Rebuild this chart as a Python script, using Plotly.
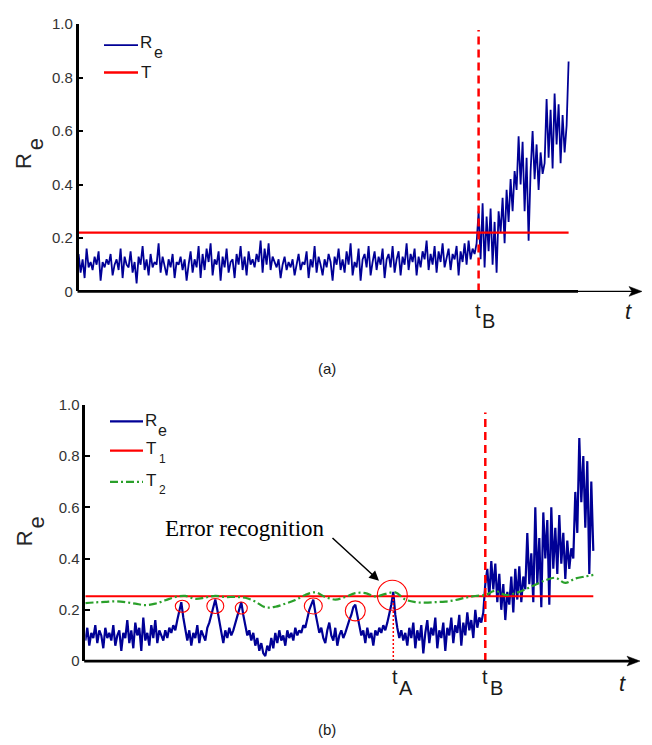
import plotly.graph_objects as go

W, H = 652, 745

# ---------------- data : panel (a) ----------------
step_a = 2                       # sample spacing on the time axis
t_break_a = 400                  # t_B
threshold_a = 0.22               # T
re_a = [
    0.14,0.07,0.12,0.05,0.16,0.09,0.11,0.08,0.13,0.10,0.15,0.04,0.11,0.09,0.12,0.10,0.14,0.06,0.10,0.12,
    0.08,0.16,0.05,0.13,0.10,0.09,0.15,0.07,0.11,0.03,0.13,0.10,0.17,0.08,0.12,0.06,0.14,0.09,0.11,0.10,
    0.18,0.07,0.13,0.10,0.06,0.12,0.09,0.14,0.05,0.11,0.10,0.13,0.08,0.12,0.04,0.10,0.15,0.07,0.12,0.09,
    0.17,0.05,0.14,0.08,0.16,0.11,0.18,0.06,0.12,0.10,0.15,0.04,0.13,0.09,0.16,0.07,0.11,0.12,0.05,0.14,
    0.10,0.17,0.08,0.13,0.06,0.15,0.10,0.12,0.09,0.14,0.11,0.19,0.07,0.16,0.10,0.18,0.08,0.13,0.11,0.09,
    0.12,0.05,0.10,0.13,0.08,0.11,0.09,0.12,0.06,0.10,0.14,0.08,0.11,0.10,0.15,0.05,0.12,0.09,0.17,0.07,
    0.13,0.10,0.06,0.12,0.09,0.14,0.11,0.04,0.13,0.10,0.16,0.08,0.12,0.07,0.15,0.10,0.18,0.06,0.11,0.09,
    0.16,0.04,0.12,0.14,0.09,0.17,0.06,0.11,0.15,0.08,0.13,0.10,0.16,0.05,0.12,0.14,0.09,0.17,0.07,0.12,
    0.15,0.06,0.13,0.10,0.18,0.08,0.14,0.11,0.16,0.06,0.13,0.09,0.15,0.12,0.19,0.08,0.14,0.10,0.17,0.07,
    0.15,0.11,0.18,0.09,0.13,0.16,0.08,0.14,0.12,0.17,0.06,0.15,0.11,0.18,0.10,0.19,0.12,0.16,0.14,0.18,
    0.30,0.12,0.33,0.09,0.28,0.15,0.31,0.10,0.26,0.07,0.30,0.22,0.35,0.18,0.38,0.26,0.42,0.30,0.45,0.38,
    0.58,0.40,0.56,0.30,0.50,0.19,0.45,0.60,0.42,0.55,0.38,0.52,0.44,0.48,0.72,0.50,0.68,0.46,0.74,0.55,
    0.70,0.48,0.66,0.52,0.62,0.86,
]

# ---------------- data : panel (b) ----------------
step_b = 2
t_break_b = 400                  # t_B
t_alarm_b = 308                  # t_A
threshold_b1 = 0.253             # T1
re_b = [
    0.08,0.13,0.06,0.11,0.09,0.14,0.07,0.12,0.10,0.05,0.13,0.09,0.11,0.08,0.14,0.06,0.10,0.12,0.04,0.11,
    0.09,0.16,0.07,0.12,0.05,0.15,0.10,0.13,0.04,0.17,0.08,0.11,0.06,0.14,0.09,0.16,0.07,0.12,0.10,0.08,
    0.12,0.09,0.13,0.11,0.14,0.12,0.16,0.19,0.23,0.17,0.13,0.08,0.12,0.06,0.11,0.09,0.14,0.07,0.12,0.10,
    0.08,0.13,0.15,0.18,0.21,0.24,0.20,0.16,0.11,0.07,0.12,0.09,0.13,0.10,0.12,0.15,0.17,0.20,0.23,0.18,
    0.14,0.10,0.12,0.08,0.11,0.06,0.09,0.04,0.07,0.03,0.02,0.06,0.04,0.09,0.05,0.11,0.07,0.12,0.08,0.10,
    0.06,0.12,0.09,0.11,0.08,0.13,0.10,0.12,0.11,0.14,0.13,0.17,0.20,0.22,0.24,0.19,0.15,0.11,0.13,0.09,
    0.07,0.12,0.15,0.10,0.08,0.13,0.06,0.10,0.12,0.09,0.11,0.14,0.16,0.18,0.21,0.22,0.18,0.14,0.10,0.12,
    0.07,0.13,0.09,0.11,0.06,0.12,0.10,0.13,0.11,0.14,0.12,0.15,0.18,0.22,0.27,0.18,0.13,0.09,0.12,0.08,
    0.11,0.06,0.13,0.09,0.15,0.05,0.12,0.08,0.14,0.03,0.11,0.16,0.07,0.13,0.10,0.17,0.05,0.12,0.09,0.15,
    0.04,0.13,0.10,0.17,0.07,0.14,0.11,0.18,0.06,0.15,0.10,0.19,0.12,0.16,0.09,0.20,0.13,0.17,0.15,0.19,
    0.30,0.36,0.25,0.39,0.28,0.38,0.23,0.34,0.20,0.30,0.16,0.27,0.22,0.33,0.19,0.36,0.24,0.37,0.23,0.33,
    0.28,0.50,0.30,0.42,0.23,0.60,0.30,0.48,0.21,0.58,0.40,0.55,0.22,0.60,0.36,0.52,0.34,0.57,0.38,0.50,
    0.32,0.47,0.36,0.44,0.40,0.66,0.50,0.87,0.62,0.80,0.52,0.78,0.34,0.70,0.43,
]
t2_t = [0,10,20,30,40,50,60,70,80,90,100,110,120,130,140,150,160,170,180,190,200,210,220,230,240,250,
        260,270,280,290,300,310,320,330,340,350,360,370,380,390,400,410,420,430,440,450,460,470,480,490,500,508]
t2_v = [0.226,0.229,0.231,0.233,0.230,0.224,0.218,0.224,0.237,0.250,0.254,0.243,0.248,0.254,0.250,0.250,
        0.247,0.232,0.210,0.212,0.224,0.238,0.258,0.268,0.250,0.240,0.250,0.265,0.265,0.252,0.262,0.268,
        0.240,0.230,0.228,0.230,0.232,0.238,0.247,0.254,0.258,0.274,0.258,0.265,0.280,0.298,0.315,0.325,
        0.305,0.322,0.330,0.336]
# highlighted peaks (error recognitions)
peak_t = [97, 130, 156, 228, 270, 307]
peak_y = [0.214, 0.215, 0.207, 0.215, 0.196, 0.257]

y_ticks = [0, 0.2, 0.4, 0.6, 0.8, 1.0]
y_ticktext = ["0", "0.2", "0.4", "0.6", "0.8", "1.0"]

# ---------------- styling ----------------
BLUE = "#000096"
RED = "#FF0000"
GREEN = "#2AA02A"
FONT = "Liberation Sans, Arial, sans-serif"


def px(x):  # window pixel -> paper fraction (margins are zero)
    return x / W


def py(y):
    return 1 - y / H


t_a = [i * step_a for i in range(len(re_a))]
t_b = [i * step_b for i in range(len(re_b))]

fig = go.Figure()
fig.add_trace(go.Scatter(x=t_a, y=re_a, mode="lines", line=dict(color=BLUE, width=1.8),
                         xaxis="x", yaxis="y", showlegend=False, hoverinfo="skip"))
fig.add_trace(go.Scatter(x=[0, t_a[-1]], y=[threshold_a, threshold_a], mode="lines",
                         line=dict(color=RED, width=2.4), xaxis="x", yaxis="y", showlegend=False))
fig.add_trace(go.Scatter(x=t_b, y=re_b, mode="lines", line=dict(color=BLUE, width=2.2),
                         xaxis="x2", yaxis="y2", showlegend=False, hoverinfo="skip"))
fig.add_trace(go.Scatter(x=[0, t_b[-1]], y=[threshold_b1, threshold_b1], mode="lines",
                         line=dict(color=RED, width=2.2), xaxis="x2", yaxis="y2", showlegend=False))
fig.add_trace(go.Scatter(x=t2_t, y=t2_v, mode="lines", line=dict(color=GREEN, width=2.2, shape="spline",
                         dash="8px,3px,2px,3px"), xaxis="x2", yaxis="y2", showlegend=False))

shapes = []
annotations = []

# vertical markers
shapes.append(dict(type="line", xref="x", yref="y", x0=t_break_a, x1=t_break_a, y0=0, y1=0.978,
                   line=dict(color=RED, width=2.5, dash="8px,5px")))
shapes.append(dict(type="line", xref="x2", yref="y2", x0=t_break_b, x1=t_break_b, y0=0, y1=0.97,
                   line=dict(color=RED, width=2.5, dash="8px,5px")))
shapes.append(dict(type="line", xref="x2", yref="y2", x0=t_alarm_b, x1=t_alarm_b, y0=0, y1=0.265,
                   line=dict(color=RED, width=1.5, dash="2px,2px")))

# circles around peaks
radii = [(7, 6), (8.5, 7.5), (6, 6), (9, 8), (10, 10), (15, 15)]
for tt, yy, (rx, ry) in zip(peak_t, peak_y, radii):
    shapes.append(dict(type="circle", xref="x2", yref="y2", xsizemode="pixel", ysizemode="pixel",
                       xanchor=tt, yanchor=yy, x0=-rx, x1=rx, y0=-ry, y1=ry,
                       line=dict(color=RED, width=1.1)))


def hline(x0, x1, y, w, color="black", dash=None):
    d = dict(type="line", xref="paper", yref="paper", x0=px(x0), x1=px(x1), y0=py(y), y1=py(y),
             line=dict(color=color, width=w))
    if dash:
        d["line"]["dash"] = dash
    return d


def arrowhead(xt, yt):
    pts = [(xt, yt), (xt - 13, yt - 5), (xt - 10, yt), (xt - 13, yt + 5)]
    path = "M " + " L ".join(f"{px(a):.5f},{py(b):.5f}" for a, b in pts) + " Z"
    return dict(type="path", xref="paper", yref="paper", path=path,
                fillcolor="black", line=dict(color="black", width=0.5))


# x axes drawn as arrows
shapes.append(hline(77.5, 578, 289, 2.7))
shapes.append(hline(578, 632, 289, 1.3))
shapes.append(arrowhead(642, 289))
shapes.append(hline(84.2, 632, 667.3, 2.7))
shapes.append(arrowhead(640, 667.3))

# manual legends
shapes.append(hline(104, 138, 37, 1.8, BLUE))
shapes.append(hline(104, 138, 65, 2.4, RED))
shapes.append(hline(110, 143, 422, 2.2, BLUE))
shapes.append(hline(110, 143, 452, 2.2, RED))
shapes.append(hline(110, 143, 484, 2.2, GREEN, "8px,3px,2px,3px"))


def txt(s, x, y, size, angle=0, family=FONT, color="#1a1a1a"):
    annotations.append(dict(text=s, x=px(x), y=py(y), xref="paper", yref="paper", showarrow=False,
                            xanchor="center", yanchor="middle", textangle=angle,
                            font=dict(family=family, size=size, color=color)))


# legend texts
txt("R", 146, 34, 17); txt("e", 158, 45, 16)
txt("T", 146, 65, 17)
txt("R", 151, 421, 17); txt("e", 162.5, 431, 16)
txt("T", 151, 450, 17); txt("1", 162, 460, 12)
txt("T", 151, 482, 17); txt("2", 162, 492, 12)

# y titles
txt("R", 23.5, 156, 22, -90, color="#262626"); txt("e", 35.5, 139, 22, -90, color="#262626")
txt("R", 24.5, 542, 22, -90, color="#262626"); txt("e", 36.5, 526, 22, -90, color="#262626")

# x labels
txt("t", 478, 309, 20); txt("B", 488.5, 319, 20)
txt("<i>t</i>", 628, 310, 22)
txt("t", 395, 684, 20); txt("A", 406, 695, 20)
txt("t", 485, 684, 20); txt("B", 496, 695, 20)
txt("<i>t</i>", 622, 690, 22)

# panel captions
txt("(a)", 327, 368, 15)
txt("(b)", 327, 737, 15)

# Error recognition
txt("Error recognition", 244.5, 532, 23, family="Liberation Serif, Times New Roman, serif", color="black")
annotations.append(dict(text="", x=px(379), y=py(585), xref="paper", yref="paper", showarrow=True,
                        ax=-48, ay=-44, axref="pixel", ayref="pixel", arrowhead=2, arrowsize=1.3,
                        arrowwidth=1.5, arrowcolor="black", standoff=0))

yax = dict(range=[0, 1], showline=True, linewidth=2.5, linecolor="black", ticks="inside", ticklen=5,
           tickwidth=2, tickcolor="black", tickvals=y_ticks, ticktext=y_ticktext, showgrid=False,
           zeroline=False, tickfont=dict(family=FONT, size=15, color="#333333"), fixedrange=True)

fig.update_layout(
    width=W, height=H, margin=dict(l=0, r=0, t=0, b=0),
    paper_bgcolor="white", plot_bgcolor="white", showlegend=False,
    xaxis=dict(domain=[px(78.6), px(641)], range=[0, 562.4], visible=False, anchor="y"),
    yaxis=dict(domain=[py(289), py(15.5)], anchor="x", **yax),
    xaxis2=dict(domain=[px(85.3), px(639)], range=[0, 553.7], visible=False, anchor="y2"),
    yaxis2=dict(domain=[py(667.3), py(405)], anchor="x2", **yax),
    shapes=shapes, annotations=annotations,
)

fig.write_html("out.html", config={"displayModeBar": False},
               post_script="document.body.style.margin='0';document.body.style.overflow='hidden';")
